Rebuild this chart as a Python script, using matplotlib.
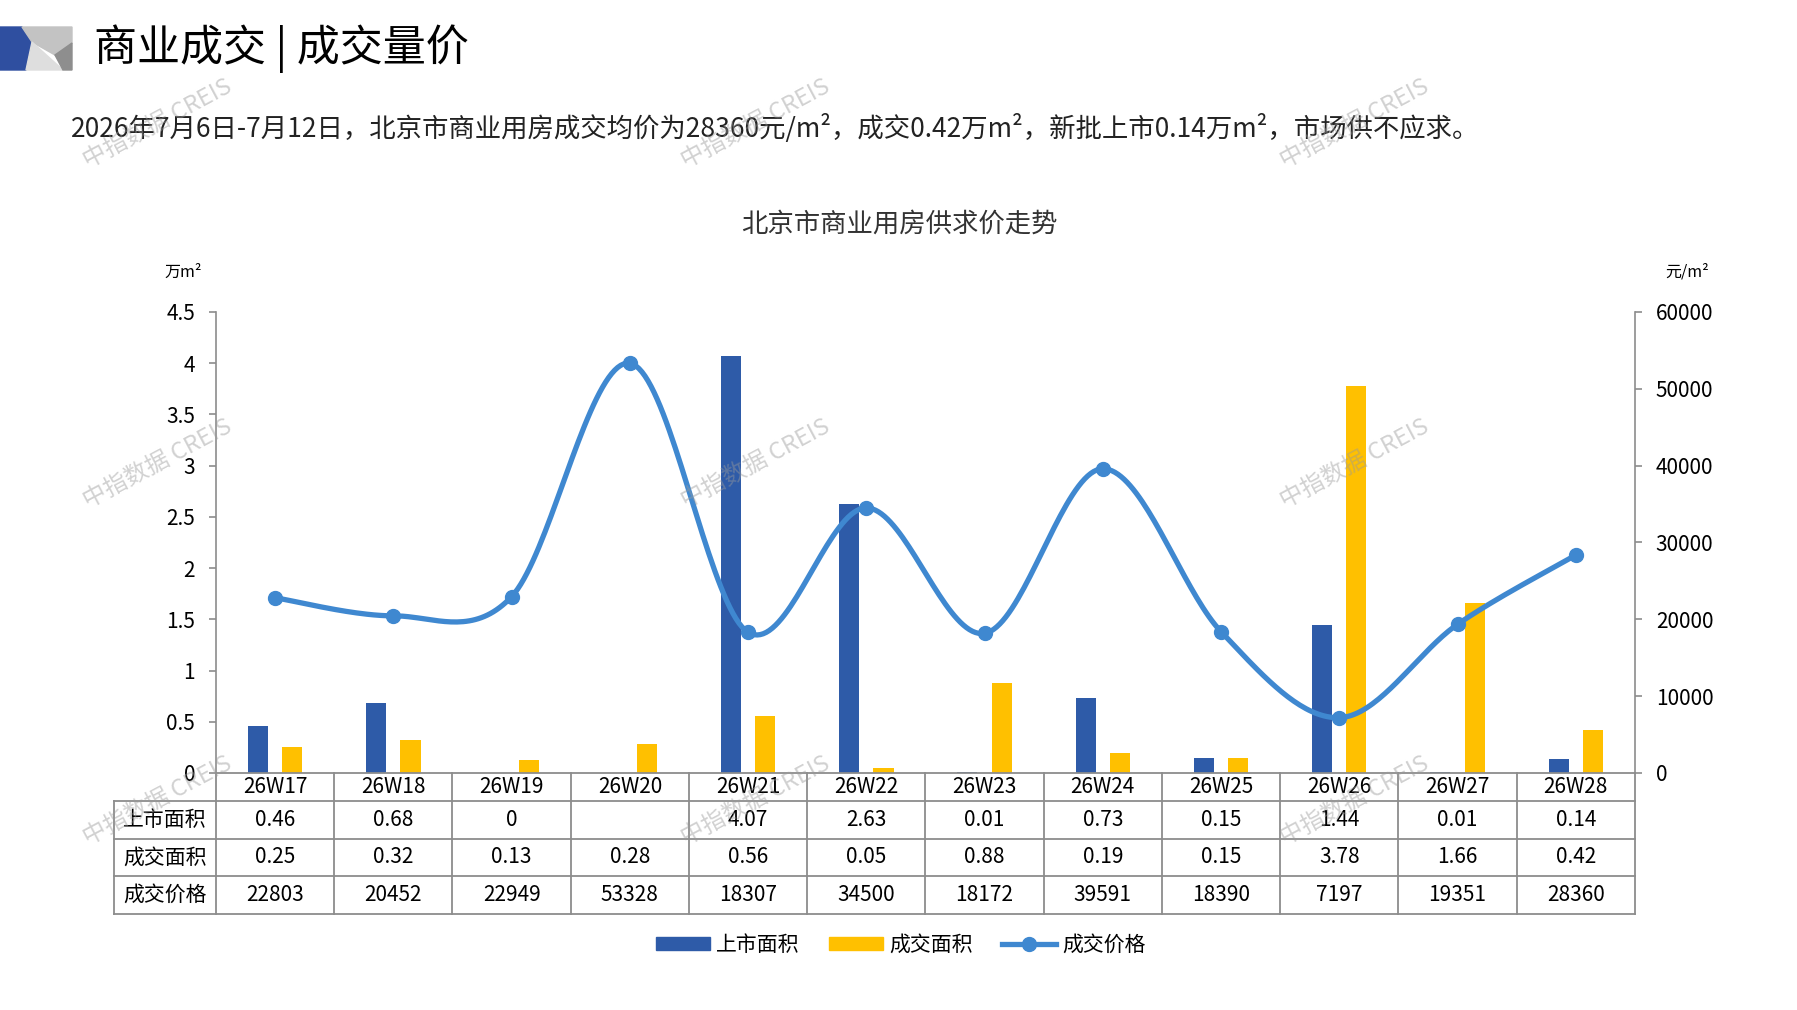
import numpy as np
import matplotlib.pyplot as plt
from matplotlib.patches import Polygon, Patch
from matplotlib.lines import Line2D
import matplotlib.transforms as mtransforms

plt.rcParams['font.family'] = ['Noto Sans CJK SC', 'DejaVu Sans']

weeks = ['26W17', '26W18', '26W19', '26W20', '26W21', '26W22',
         '26W23', '26W24', '26W25', '26W26', '26W27', '26W28']
listed = [0.46, 0.68, 0, None, 4.07, 2.63, 0.01, 0.73, 0.15, 1.44, 0.01, 0.14]
sold = [0.25, 0.32, 0.13, 0.28, 0.56, 0.05, 0.88, 0.19, 0.15, 3.78, 1.66, 0.42]
price = [22803, 20452, 22949, 53328, 18307, 34500, 18172, 39591, 18390, 7197, 19351, 28360]

row_names = ['上市面积', '成交面积', '成交价格']
series_names = ['上市面积', '成交面积', '成交价格']

blue = '#2E5BA8'
yellow = '#FFC000'
lblue = '#3F88D0'
grid_gray = '#8C8C8C'
num_font = ['Liberation Sans Narrow', 'Noto Sans CJK SC']


def smooth(xs, ys, n=40):
    # excel-like smoothed line (catmull-rom as cubic bezier)
    p = np.column_stack([xs, ys]).astype(float)
    out = []
    for i in range(len(p) - 1):
        p0 = p[i - 1] if i > 0 else p[i]
        p1, p2 = p[i], p[i + 1]
        p3 = p[i + 2] if i + 2 < len(p) else p[i + 1]
        c1 = p1 + (p2 - p0) / 6
        c2 = p2 - (p3 - p1) / 6
        t = np.linspace(0, 1, n)[:, None]
        seg = ((1 - t) ** 3) * p1 + 3 * ((1 - t) ** 2) * t * c1 + 3 * (1 - t) * t ** 2 * c2 + t ** 3 * p2
        out.append(seg if i == 0 else seg[1:])
    s = np.vstack(out)
    return s[:, 0], s[:, 1]


fig = plt.figure(figsize=(17.97, 10.10), dpi=100)
ax = fig.add_axes([0.1202, 0.2347, 0.7896, 0.4564])
ax2 = ax.twinx()

x = np.arange(len(weeks))
listed_v = [0 if v is None else v for v in listed]
bw = 0.17
ax.bar(x - 0.145, listed_v, bw, color=blue, zorder=2)
ax.bar(x + 0.145, sold, bw, color=yellow, zorder=2)

sx, sy = smooth(x, price)
ax2.plot(sx, sy, color=lblue, lw=3.8, solid_capstyle='round', zorder=3)
ax2.plot(x, price, 'o', color=lblue, ms=10, zorder=4)

ax.set_xlim(-0.5, len(weeks) - 0.5)
ax.set_ylim(0, 4.5)
ax2.set_ylim(0, 60000)
ax.set_yticks(np.arange(0, 4.51, 0.5))
ax.set_yticklabels(['0', '0.5', '1', '1.5', '2', '2.5', '3', '3.5', '4', '4.5'])
ax2.set_yticks(np.arange(0, 60001, 10000))
ax.set_xticks([])
for a in (ax, ax2):
    for s in ['top', 'bottom']:
        a.spines[s].set_visible(False)
    a.tick_params(axis='y', colors=grid_gray, length=5, width=1.2, labelcolor='black',
                  labelsize=15, pad=10)
    for lab in a.get_yticklabels():
        lab.set_family(num_font)
ax.spines['right'].set_visible(False)
ax2.spines['left'].set_visible(False)
ax.spines['left'].set_color(grid_gray)
ax2.spines['right'].set_color(grid_gray)
ax.spines['left'].set_linewidth(1.2)
ax2.spines['right'].set_linewidth(1.2)

# data table under the plot
tr = mtransforms.blended_transform_factory(ax.transData, ax.transAxes)
n = len(weeks)
xl, xr, xlab = -0.5, n - 0.5, -1.363
ys = [0, -0.0607, -0.1432, -0.2234, -0.3059]
lk = dict(color=grid_gray, lw=1.3, transform=tr, clip_on=False)
ax.add_line(Line2D([xl, xr], [ys[0], ys[0]], **lk))
for yy in ys[1:]:
    ax.add_line(Line2D([xlab, xr], [yy, yy], **lk))
for i in range(n + 1):
    ax.add_line(Line2D([xl + i, xl + i], [ys[0], ys[-1]], **lk))
ax.add_line(Line2D([xlab, xlab], [ys[1], ys[-1]], **lk))

rows = [[f'{v:g}' if v is not None else '' for v in listed],
        [f'{v:g}' for v in sold],
        [str(v) for v in price]]
for i, w in enumerate(weeks):
    ax.text(i, (ys[0] + ys[1]) / 2, w, ha='center', va='center', fontsize=15,
            family=num_font, transform=tr)
    for r in range(3):
        ax.text(i, (ys[r + 1] + ys[r + 2]) / 2, rows[r][i], ha='center', va='center',
                fontsize=15, family=num_font, transform=tr)
for r, name in enumerate(row_names):
    ax.text((xlab + xl) / 2, (ys[r + 1] + ys[r + 2]) / 2, name, ha='center', va='center',
            fontsize=15, transform=tr)

# headings
fig.text(0.0523, 0.9515, '商业成交 | 成交量价', fontsize=31, va='center', ha='left')
fig.text(0.0395, 0.873,
         '2026年7月6日-7月12日，北京市商业用房成交均价为28360元/m²，成交0.42万m²，新批上市0.14万m²，市场供不应求。',
         fontsize=19, va='center', ha='left', color='#222222')
fig.text(0.5003, 0.778, '北京市商业用房供求价走势', fontsize=19, ha='center', va='center',
         color='#333333')
fig.text(0.1018, 0.7307, '万m²', fontsize=11.5, ha='center', va='center')
fig.text(0.9388, 0.7307, '元/m²', fontsize=11.5, ha='center', va='center')

# corner decoration (pixel coords -> figure fraction)
W, H = 1797.0, 1010.0
def fp(pts):
    return [(px / W, 1 - py / H) for px, py in pts]
deco = [
    ([(0, 27), (22, 27), (32, 42), (26, 70), (0, 70)], '#2F4FA0'),
    ([(22, 27), (72, 27), (72, 43), (55, 55), (32, 42)], '#C3C3C3'),
    ([(32, 42), (63, 70), (26, 70)], '#DEDEDE'),
    ([(55, 55), (72, 43), (72, 70), (63, 70)], '#8E8E8E'),
]
for pts, c in deco:
    fig.patches.append(Polygon(fp(pts), closed=True, color=c, transform=fig.transFigure,
                               figure=fig))

# legend
handles = [Patch(color=blue), Patch(color=yellow),
           Line2D([], [], color=lblue, lw=3.8, marker='o', ms=10)]
fig.legend(handles, series_names, loc='center', bbox_to_anchor=(0.5014, 0.0644), ncol=3,
           frameon=False, fontsize=15, handlelength=2.6, handleheight=0.6,
           columnspacing=1.4, handletextpad=0.3)

# watermarks
for wx in (158, 756, 1355):
    for wy in (124, 464, 801):
        fig.text(wx / W, 1 - wy / H, '中指数据 CREIS', fontsize=17, rotation=28,
                 ha='center', va='center', color='#9a9a9a', alpha=0.45, zorder=10)

fig.savefig('out.png', dpi=100)
